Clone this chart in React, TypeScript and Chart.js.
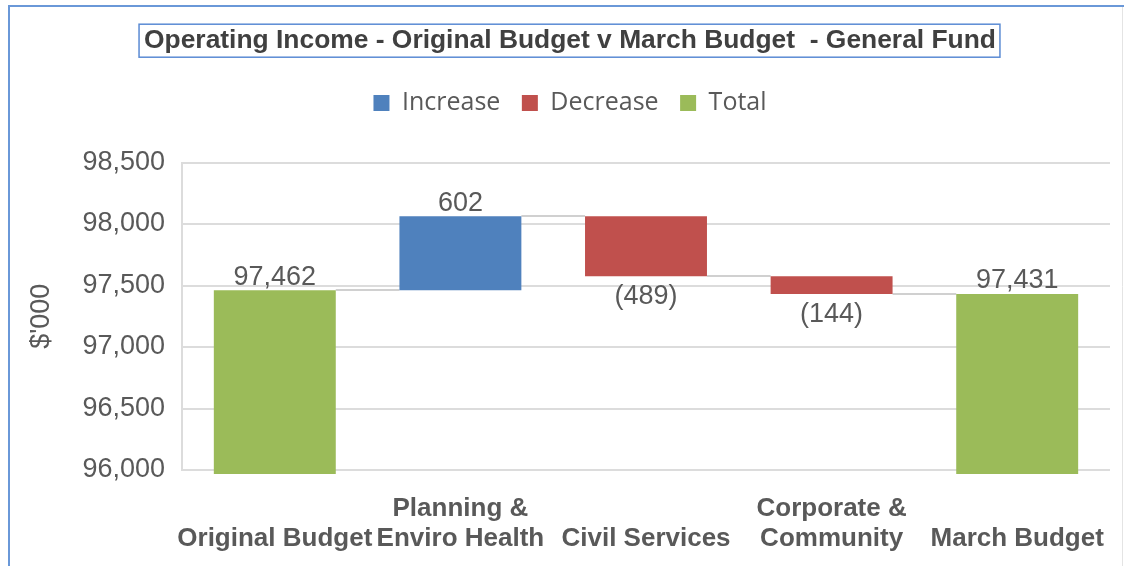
import React, { useEffect, useRef } from 'react';
import { Chart, registerables } from 'chart.js';

Chart.register(...registerables);

// ---- data ----
const chartTitle = 'Operating Income - Original Budget v March Budget  - General Fund';
const categories: (string | string[])[] = [
  'Original Budget',
  ['Planning &', 'Enviro Health'],
  'Civil Services',
  ['Corporate &', 'Community'],
  'March Budget',
];
const originalBudget = 97462;
const changes = [602, -489, -144];
const marchBudget = 97431;
const yTickValues = [96000, 96500, 97000, 97500, 98000, 98500];
const seriesNames = ['Increase', 'Decrease', 'Total'];
const seriesColors = ['#4F81BD', '#C0504D', '#9BBB59'];
const yAxisTitle = "$'000";

// ---- derived waterfall tables ----
const n = categories.length;
const incData: any[] = Array(n).fill(null);
const decData: any[] = Array(n).fill(null);
const totData: any[] = Array(n).fill(null);
const levels: number[] = [originalBudget];
totData[0] = originalBudget;
let running = originalBudget;
changes.forEach((c, i) => {
  const next = running + c;
  if (c >= 0) incData[i + 1] = [running, next];
  else decData[i + 1] = [next, running];
  running = next;
  levels.push(running);
});
totData[n - 1] = marchBudget;
const labelValues = [originalBudget, ...changes, marchBudget];
const kinds = ['total', ...changes.map((c) => (c >= 0 ? 'inc' : 'dec')), 'total'];

const FONT = "'Liberation Sans', Arial, sans-serif";
const GREY = '#595959';
const TITLE_SIZE = 26.4;
const TITLE_PAD_TOP = 27.5;

const fmt = (v: number) => Math.abs(v).toLocaleString('en-US');

function elementFor(chart: any, i: number) {
  for (let d = 0; d < chart.data.datasets.length; d++) {
    const ds = chart.data.datasets[d];
    if (ds.data[i] !== null && ds.data[i] !== undefined) {
      return chart.getDatasetMeta(d).data[i];
    }
  }
  return null;
}

const decorPlugin = {
  id: 'decor',
  beforeDraw(chart: any) {
    const ctx = chart.ctx;
    ctx.save();
    ctx.fillStyle = '#ffffff';
    ctx.fillRect(0, 0, chart.width, chart.height);
    ctx.strokeStyle = '#6a98d8';
    ctx.lineWidth = 2;
    ctx.beginPath();
    ctx.moveTo(9, chart.height);
    ctx.lineTo(9, 6);
    ctx.lineTo(chart.width, 6);
    ctx.stroke();
    ctx.strokeStyle = '#e4e4e4';
    ctx.lineWidth = 1;
    ctx.beginPath();
    ctx.moveTo(chart.width - 1.5, 7);
    ctx.lineTo(chart.width - 1.5, chart.height);
    ctx.stroke();
    ctx.restore();
  },
  beforeDatasetsDraw(chart: any) {
    const ctx = chart.ctx;
    const y = chart.scales.y;
    ctx.save();
    ctx.strokeStyle = '#d0d0d0';
    ctx.lineWidth = 2;
    for (let i = 0; i < n - 1; i++) {
      const a = elementFor(chart, i);
      const b = elementFor(chart, i + 1);
      if (!a || !b) continue;
      const py = Math.round(y.getPixelForValue(levels[i]));
      ctx.beginPath();
      ctx.moveTo(a.x + a.width / 2, py);
      ctx.lineTo(b.x - b.width / 2, py);
      ctx.stroke();
    }
    ctx.restore();
  },
  afterDatasetsDraw(chart: any) {
    const ctx = chart.ctx;
    ctx.save();
    ctx.font = `27px ${FONT}`;
    ctx.fillStyle = GREY;
    ctx.textAlign = 'center';
    ctx.textBaseline = 'alphabetic';
    for (let i = 0; i < n; i++) {
      const el = elementFor(chart, i);
      if (!el) continue;
      const top = Math.min(el.y, el.base);
      const bottom = Math.max(el.y, el.base);
      const v = labelValues[i];
      if (kinds[i] === 'dec') {
        ctx.fillText(`(${fmt(v)})`, el.x, bottom + 28);
      } else {
        ctx.fillText(fmt(v), el.x, top - 5.5);
      }
    }
    ctx.restore();
  },
  afterDraw(chart: any) {
    const ctx = chart.ctx;
    const tb = chart.titleBlock;
    if (!tb) return;
    ctx.save();
    ctx.font = `bold ${TITLE_SIZE}px ${FONT}`;
    const w = ctx.measureText(chartTitle).width;
    const cx = (tb.left + tb.right) / 2;
    const cy = tb.top + TITLE_PAD_TOP + TITLE_SIZE / 2;
    ctx.strokeStyle = '#5b8bd4';
    ctx.lineWidth = 1.5;
    ctx.strokeRect(cx - w / 2 - 5, cy - 16.5, w + 9, 33);
    ctx.restore();
  },
};

export default function App() {
  const ref = useRef<HTMLCanvasElement | null>(null);
  useEffect(() => {
    if (!ref.current) return;
    const chart = new Chart(ref.current, {
      type: 'bar',
      data: {
        labels: categories,
        datasets: [
          { label: seriesNames[0], data: incData, backgroundColor: seriesColors[0] },
          { label: seriesNames[1], data: decData, backgroundColor: seriesColors[1] },
          { label: seriesNames[2], data: totData, backgroundColor: seriesColors[2] },
        ].map((d) => ({
          ...d,
          grouped: false,
          barPercentage: 0.657,
          categoryPercentage: 1,
          borderWidth: 0,
          clip: { left: 0, top: 0, right: 0, bottom: 4 },
        })) as any,
      },
      options: {
        animation: false,
        responsive: false,
        devicePixelRatio: 1,
        layout: { padding: { top: 0, left: 30, right: 14, bottom: 0 } },
        plugins: {
          title: {
            display: true,
            text: chartTitle,
            color: '#404040',
            font: { family: FONT, size: TITLE_SIZE, weight: 'bold', lineHeight: 1 },
            padding: { top: TITLE_PAD_TOP, bottom: 69 - TITLE_PAD_TOP - TITLE_SIZE },
          },
          subtitle: {
            display: true,
            text: '',
            weight: 500,
            font: { size: 10, lineHeight: 1 },
            padding: { top: 0, bottom: 27 },
          } as any,
          legend: {
            display: true,
            position: 'top',
            labels: {
              color: GREY,
              font: { family: "'Open Sans', 'Noto Sans', sans-serif", size: 25 },
              boxWidth: 16,
              boxHeight: 16,
              padding: 21.5,
            },
          },
          tooltip: { enabled: false },
        },
        scales: {
          x: {
            grid: { display: false },
            border: { display: false },
            ticks: {
              color: GREY,
              font: { family: FONT, size: 26, weight: 'bold', lineHeight: 1.15 },
              crossAlign: 'far',
              padding: 31,
              maxRotation: 0,
              autoSkip: false,
            },
            afterFit: (s: any) => {
              s.height = 96;
              s.paddingLeft = 0;
              s.paddingRight = 0;
            },
          },
          y: {
            min: yTickValues[0],
            max: yTickValues[yTickValues.length - 1],
            afterBuildTicks: (s: any) => {
              s.ticks = yTickValues.map((v) => ({ value: v }));
            },
            grid: { color: '#dcdcdc', lineWidth: 2, drawTicks: false },
            border: { display: true, color: '#dcdcdc', width: 2 },
            ticks: {
              color: GREY,
              font: { family: FONT, size: 27 },
              padding: 17,
              callback: (v: any) => Number(v).toLocaleString('en-US'),
            },
            title: {
              display: true,
              text: yAxisTitle,
              color: GREY,
              font: { family: FONT, size: 27, lineHeight: 1 },
              padding: { top: -2, bottom: 0 },
            },
            afterFit: (s: any) => {
              s.width = 152;
            },
          },
        },
      },
      plugins: [decorPlugin],
    });
    return () => chart.destroy();
  }, []);
  return (
    <div style={{ position: 'absolute', left: 0, top: 0, width: 1124, height: 566 }}>
      <canvas ref={ref} width={1124} height={566} style={{ width: 1124, height: 566 }} />
    </div>
  );
}
